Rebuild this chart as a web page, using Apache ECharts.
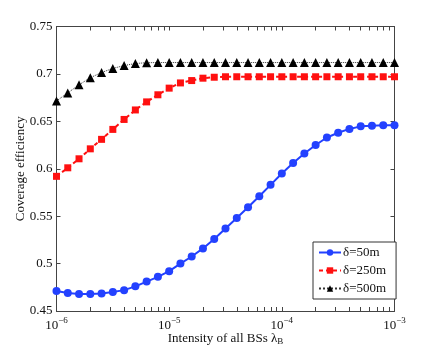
<!DOCTYPE html>
<html>
<head>
<meta charset="utf-8">
<script src="https://cdn.jsdelivr.net/npm/echarts@6/dist/echarts.min.js"></script>
<style>
  html, body { margin: 0; padding: 0; background: #fff; }
  #main { width: 436px; height: 353px; }
</style>
</head>
<body>
<div id="main"></div>
<script>
// log10 of BS intensity, 10 samples per decade
const logLambda = [-6.0, -5.9, -5.8, -5.7, -5.6, -5.5, -5.4, -5.3, -5.2, -5.1,
  -5.0, -4.9, -4.8, -4.7, -4.6, -4.5, -4.4, -4.3, -4.2, -4.1,
  -4.0, -3.9, -3.8, -3.7, -3.6, -3.5, -3.4, -3.3, -3.2, -3.1, -3.0];

const eff50 = [0.471, 0.469, 0.468, 0.468, 0.4685, 0.470, 0.472, 0.476, 0.481, 0.486,
  0.492, 0.500, 0.5075, 0.516, 0.526, 0.537, 0.548, 0.5595, 0.571, 0.583,
  0.595, 0.606, 0.616, 0.625, 0.633, 0.638, 0.642, 0.6447, 0.6454, 0.6458, 0.646];
const eff250 = [0.592, 0.601, 0.6105, 0.621, 0.631, 0.6415, 0.652, 0.662, 0.6705, 0.678,
  0.685, 0.6905, 0.693, 0.6955, 0.6965, 0.697, 0.697, 0.697, 0.697, 0.697,
  0.697, 0.697, 0.697, 0.697, 0.697, 0.697, 0.697, 0.697, 0.697, 0.697, 0.697];
const eff500 = [0.6715, 0.680, 0.6885, 0.696, 0.7015, 0.7058, 0.7088, 0.711, 0.7118, 0.712,
  0.712, 0.712, 0.712, 0.712, 0.712, 0.712, 0.712, 0.712, 0.712, 0.712,
  0.712, 0.712, 0.712, 0.712, 0.712, 0.712, 0.712, 0.712, 0.712, 0.712, 0.712];

const decades = [-6, -5, -4, -3];
const seriesNames = ['δ=50m', 'δ=250m', 'δ=500m'];

// tick positions at 1..9 x 10^k (log axis drawn on exponent)
const minorTicks = [];
for (let k = -6; k < -3; k++) {
  for (let m = 1; m < 10; m++) minorTicks.push(k + Math.log10(m));
}
minorTicks.push(-3);

const chart = echarts.init(document.getElementById('main'));
const font = 'Liberation Serif';
const axisColor = '#444';

function pairs(ys) {
  return ys.map((v, i) => [logLambda[i], v]);
}

const baseX = {
  type: 'value', min: -6, max: -3, interval: 1,
  splitLine: { show: false },
  axisLine: { show: true, onZero: false, lineStyle: { color: axisColor, width: 1 } }
};

chart.setOption({
  animation: false,
  textStyle: { fontFamily: font },
  grid: { left: 56.5, right: 41.5, top: 26.5, bottom: 42, outerBoundsMode: 'none' },
  xAxis: [
    Object.assign({}, baseX, {
      position: 'bottom',
      axisTick: { inside: true, length: 4, customValues: minorTicks, lineStyle: { color: axisColor } },
      axisLabel: {
        margin: 5,
        customValues: decades,
        formatter: v => '{b|10}{s|' + String(v).replace('-', '−') + '}',
        rich: {
          b: { fontFamily: font, fontSize: 13, color: '#111', lineHeight: 16, verticalAlign: 'bottom' },
          s: { fontFamily: font, fontSize: 9, color: '#111', lineHeight: 16, verticalAlign: 'top', padding: [0, 0, 6, 0] }
        }
      },
      name: '{n|Intensity of all BSs λ}{sub|B}',
      nameLocation: 'middle',
      nameGap: 21,
      nameMoveOverlap: false,
      nameTextStyle: {
        rich: {
          n: { fontFamily: font, fontSize: 13, color: '#111', lineHeight: 14, verticalAlign: 'top' },
          sub: { fontFamily: font, fontSize: 9, color: '#111', lineHeight: 9, verticalAlign: 'bottom', padding: [8, 0, 0, 0] }
        }
      }
    }),
    Object.assign({}, baseX, {
      position: 'top',
      axisTick: { inside: true, length: 4, customValues: minorTicks, lineStyle: { color: axisColor } },
      axisLabel: { show: false }
    })
  ],
  yAxis: [
    {
      type: 'value', min: 0.45, max: 0.75, interval: 0.05,
      splitLine: { show: false },
      axisLine: { show: true, lineStyle: { color: axisColor } },
      axisTick: { inside: true, length: 4, lineStyle: { color: axisColor } },
      axisLabel: { margin: 4, fontFamily: font, fontSize: 13, color: '#111', formatter: v => String(+v.toFixed(2)) },
      name: 'Coverage efficiency',
      nameLocation: 'middle',
      nameGap: 29,
      nameMoveOverlap: false,
      nameTextStyle: { fontFamily: font, fontSize: 13, color: '#111' }
    },
    {
      type: 'value', min: 0.45, max: 0.75, interval: 0.05, position: 'right',
      splitLine: { show: false },
      axisLine: { show: true, lineStyle: { color: axisColor } },
      axisTick: { inside: true, length: 4, lineStyle: { color: axisColor } },
      axisLabel: { show: false }
    }
  ],
  legend: {
    orient: 'vertical',
    left: 313, top: 242,
    width: 78,
    padding: [4, 10, 4, 5],
    itemGap: 5,
    itemWidth: 22, itemHeight: 8,
    backgroundColor: '#fff',
    borderColor: '#333', borderWidth: 1,
    textStyle: { fontFamily: font, fontSize: 13, color: '#111', padding: [0, 0, 0, -3] },
    data: seriesNames
  },
  series: [
    {
      name: seriesNames[0], type: 'line', data: pairs(eff50),
      symbol: 'circle', symbolSize: 8,
      itemStyle: { color: '#2341ff' },
      lineStyle: { color: '#2341ff', width: 2 }
    },
    {
      name: seriesNames[1], type: 'line', data: pairs(eff250),
      symbol: 'rect', symbolSize: 7,
      itemStyle: { color: '#ff1010' },
      lineStyle: { color: '#ff1010', width: 2, type: [4, 3] }
    },
    {
      name: seriesNames[2], type: 'line', data: pairs(eff500),
      symbol: 'triangle', symbolSize: 9,
      itemStyle: { color: '#000' },
      lineStyle: { color: '#333', width: 1, type: 'dotted' }
    }
  ]
});
</script>
</body>
</html>
